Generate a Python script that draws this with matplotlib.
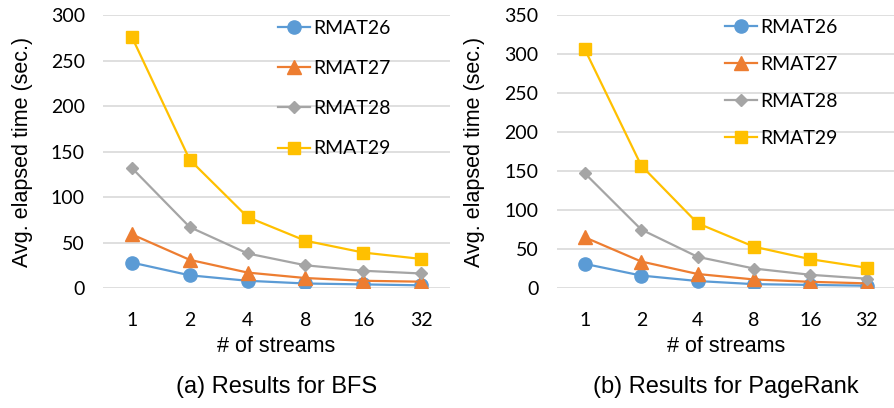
import matplotlib
matplotlib.use("Agg")
import matplotlib.pyplot as plt

plt.rcParams['font.family'] = ['Liberation Sans', 'DejaVu Sans']

streams = ["1", "2", "4", "8", "16", "32"]
series_names = ["RMAT26", "RMAT27", "RMAT28", "RMAT29"]
bfs_rmat26 = [28, 14, 8, 5, 4, 3]
bfs_rmat27 = [59, 31, 17, 11, 8, 7]
bfs_rmat28 = [132, 67, 38, 25, 19, 16]
bfs_rmat29 = [276, 141, 78, 52, 39, 32]
pr_rmat26 = [31, 16, 9, 5, 4, 3]
pr_rmat27 = [65, 34, 18, 11, 8, 6]
pr_rmat28 = [147, 75, 40, 25, 17, 12]
pr_rmat29 = [306, 157, 83, 53, 37, 26]

colors = ["#5B9BD5", "#ED7D31", "#A5A5A5", "#FFC000"]
markers = ["o", "^", "D", "s"]
msizes = [9.5, 9.5, 6.5, 8.5]

fig = plt.figure(figsize=(8.95, 4.08), dpi=100)
ax1 = fig.add_axes([0.115, 0.294, 0.388, 0.669])
ax2 = fig.add_axes([0.622, 0.294, 0.378, 0.669])

TICKFONT = ['Lato', 'DejaVu Sans']

def draw(ax, data, ymax, step, caption, legx, legy, legspace, ylab_x):
    x = list(range(len(streams)))
    for vals, name, c, m, ms in zip(data, series_names, colors, markers, msizes):
        ax.plot(x, vals, color=c, marker=m, markersize=ms, linewidth=1.6, label=name, zorder=3)
    ax.set_xlim(-0.5, len(streams) - 0.5)
    ax.set_ylim(0, ymax)
    ax.set_yticks(range(0, ymax + 1, step))
    ax.set_xticks(x)
    ax.set_xticklabels(streams)
    for s in ax.spines.values():
        s.set_visible(False)
    ax.grid(axis='y', color='#D9D9D9', linewidth=1.2, zorder=0)
    ax.tick_params(axis='x', length=0, labelsize=14, colors='#000000', pad=17)
    ax.tick_params(axis='y', length=0, labelsize=14, colors='#000000', pad=13)
    for lab in ax.get_xticklabels() + ax.get_yticklabels():
        lab.set_family(TICKFONT)
    ax.set_xlabel("# of streams", fontsize=15.5)
    ax.set_ylabel("Avg. elapsed time (sec.)", fontsize=15.5)
    ax.xaxis.set_label_coords(0.5, -0.176)
    ax.yaxis.set_label_coords(ylab_x, 0.5)
    leg = ax.legend(loc='upper left', bbox_to_anchor=(legx, legy), frameon=False,
                    prop={'family': TICKFONT, 'size': 14}, labelspacing=legspace,
                    handlelength=1.65, handletextpad=0.15, borderpad=0, borderaxespad=0)
    ax.text(0.5, -0.363, caption, transform=ax.transAxes, ha='center', va='center', fontsize=17)

draw(ax1, [bfs_rmat26, bfs_rmat27, bfs_rmat28, bfs_rmat29], 300, 50,
     "(a) Results for BFS", 0.504, 0.982, 1.19, -0.2017)
draw(ax2, [pr_rmat26, pr_rmat27, pr_rmat28, pr_rmat29], 350, 50,
     "(b) Results for PageRank", 0.497, 0.986, 1.03, -0.213)

fig.savefig("out.png", dpi=100)
